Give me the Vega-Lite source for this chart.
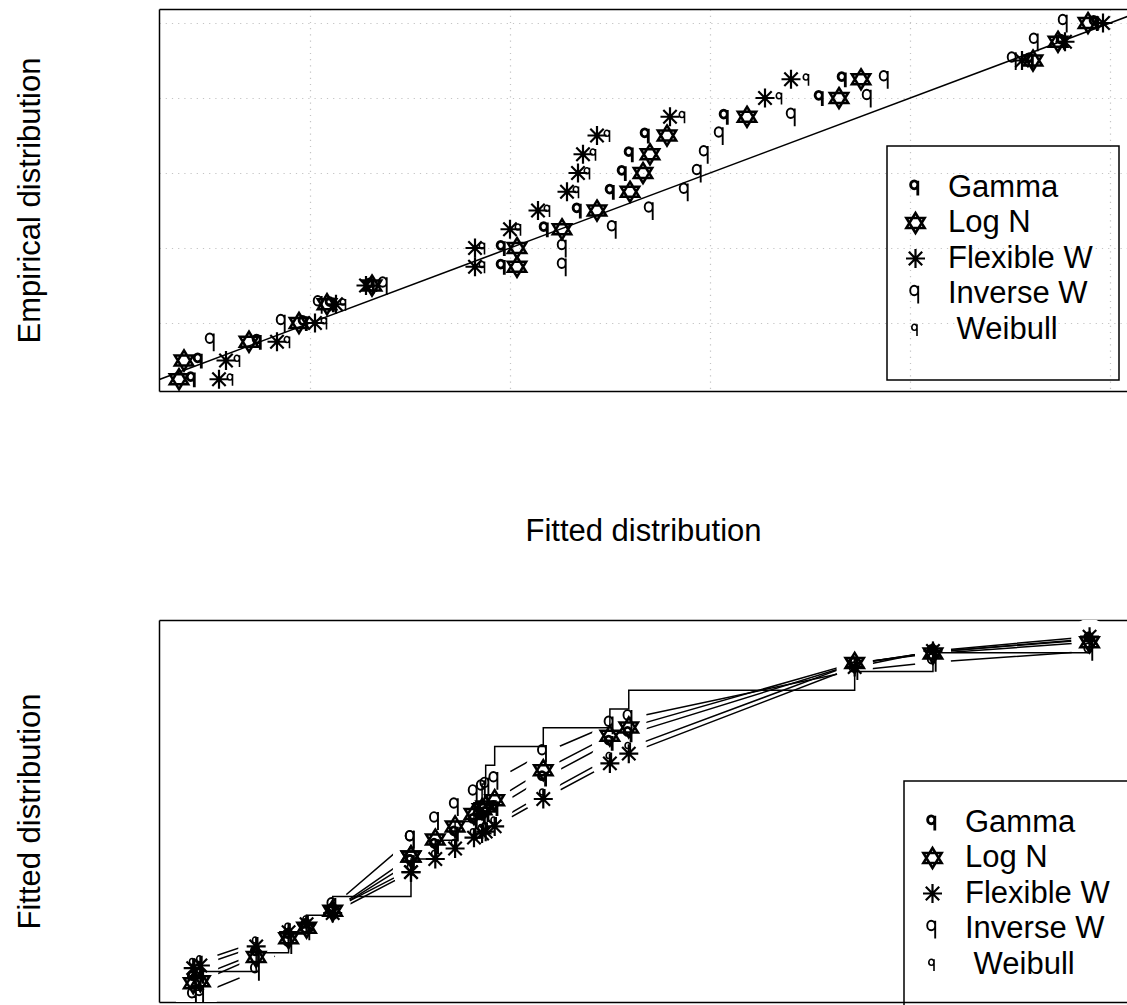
{
"$schema": "https://vega.github.io/schema/vega-lite/v6.json",
"padding": {"left": 14, "top": 9, "right": 0, "bottom": 1},
"spacing": 74,
"config": {
  "view": {"stroke": null},
  "font": "Liberation Sans",
  "axis": {"labels": false, "ticks": false, "domainColor": "black", "domainWidth": 1.5, "titleFont": "Liberation Sans", "titleFontSize": 31, "titleFontWeight": "normal", "titleColor": "black", "zindex": 1},
  "legend": {"orient": "none", "padding": 26, "strokeColor": "black", "strokeWidth": 1.5, "labelFont": "Liberation Sans", "labelFontSize": 31, "labelColor": "black", "labelLimit": 400, "rowPadding": 3.5, "symbolSize": 400, "symbolStrokeColor": "black", "symbolFillColor": "transparent", "symbolOpacity": 1, "symbolOffset": -13, "labelOffset": 17, "titleFontSize": 7, "titlePadding": 2, "titleOrient": "bottom"}
},
"datasets": {
  "diag": [{"a": 0, "b": 0}, {"a": 1.1, "b": 1.1}],
  "fit": [
    {"i": 1, "x": 4.8, "emp": 0.05, "Gamma": 0.082, "LogN": 0.069, "FlexW": 0.109, "InvW": 0.034, "Weibull": 0.121},
    {"i": 2, "x": 5.6, "emp": 0.10, "Gamma": 0.089, "LogN": 0.074, "FlexW": 0.116, "InvW": 0.040, "Weibull": 0.128},
    {"i": 3, "x": 11.8, "emp": 0.15, "Gamma": 0.148, "LogN": 0.139, "FlexW": 0.167, "InvW": 0.101, "Weibull": 0.178},
    {"i": 4, "x": 15.4, "emp": 0.20, "Gamma": 0.194, "LogN": 0.189, "FlexW": 0.205, "InvW": 0.172, "Weibull": 0.215},
    {"i": 5, "x": 17.4, "emp": 0.25, "Gamma": 0.221, "LogN": 0.217, "FlexW": 0.226, "InvW": 0.209, "Weibull": 0.234},
    {"i": 6, "x": 20.3, "emp": 0.30, "Gamma": 0.261, "LogN": 0.262, "FlexW": 0.256, "InvW": 0.274, "Weibull": 0.265},
    {"i": 7, "x": 29.0, "emp": 0.35, "Gamma": 0.392, "LogN": 0.407, "FlexW": 0.365, "InvW": 0.453, "Weibull": 0.373},
    {"i": 8, "x": 29.0, "emp": 0.40, "Gamma": 0.392, "LogN": 0.407, "FlexW": 0.365, "InvW": 0.453, "Weibull": 0.373},
    {"i": 9, "x": 31.7, "emp": 0.45, "Gamma": 0.435, "LogN": 0.452, "FlexW": 0.400, "InvW": 0.503, "Weibull": 0.409},
    {"i": 10, "x": 33.9, "emp": 0.50, "Gamma": 0.468, "LogN": 0.487, "FlexW": 0.428, "InvW": 0.540, "Weibull": 0.438},
    {"i": 11, "x": 36.0, "emp": 0.55, "Gamma": 0.501, "LogN": 0.520, "FlexW": 0.457, "InvW": 0.575, "Weibull": 0.467},
    {"i": 12, "x": 36.9, "emp": 0.60, "Gamma": 0.513, "LogN": 0.533, "FlexW": 0.468, "InvW": 0.588, "Weibull": 0.478},
    {"i": 13, "x": 37.3, "emp": 0.65, "Gamma": 0.520, "LogN": 0.540, "FlexW": 0.473, "InvW": 0.595, "Weibull": 0.484},
    {"i": 14, "x": 38.3, "emp": 0.70, "Gamma": 0.536, "LogN": 0.557, "FlexW": 0.487, "InvW": 0.610, "Weibull": 0.498},
    {"i": 15, "x": 43.7, "emp": 0.75, "Gamma": 0.615, "LogN": 0.637, "FlexW": 0.560, "InvW": 0.682, "Weibull": 0.573},
    {"i": 16, "x": 51.1, "emp": 0.80, "Gamma": 0.710, "LogN": 0.729, "FlexW": 0.655, "InvW": 0.758, "Weibull": 0.670},
    {"i": 17, "x": 53.2, "emp": 0.85, "Gamma": 0.733, "LogN": 0.751, "FlexW": 0.681, "InvW": 0.775, "Weibull": 0.697},
    {"i": 18, "x": 78.3, "emp": 0.90, "Gamma": 0.920, "LogN": 0.923, "FlexW": 0.912, "InvW": 0.903, "Weibull": 0.921},
    {"i": 19, "x": 87.0, "emp": 0.95, "Gamma": 0.952, "LogN": 0.948, "FlexW": 0.955, "InvW": 0.925, "Weibull": 0.952},
    {"i": 20, "x": 104.4, "emp": 1.00, "Gamma": 0.985, "LogN": 0.978, "FlexW": 0.993, "InvW": 0.954, "Weibull": 0.987}
  ]
},
"resolve": {"scale": {"x": "independent", "y": "independent", "shape": "independent", "strokeWidth": "independent"}},
"vconcat": [
  {
    "width": 968,
    "height": 382,
    "resolve": {"axis": {"x": "independent"}},
    "layer": [
      {
        "data": {"name": "diag"},
        "mark": {"type": "line", "color": "black", "strokeWidth": 1.6, "clip": true},
        "encoding": {
          "x": {"field": "a", "type": "quantitative", "scale": {"domain": [0.049, 1.017], "nice": false, "zero": false},
                "axis": {"orient": "bottom", "title": "Fitted distribution", "titlePadding": 125, "grid": true, "values": [0.2, 0.4, 0.6, 0.8, 1.0], "gridColor": "#c4c4c4", "gridDash": [1.2, 5], "gridWidth": 1.2}},
          "y": {"field": "b", "type": "quantitative", "scale": {"domain": [0.0187, 1.0374], "nice": false, "zero": false},
                "axis": {"title": "Empirical distribution", "titlePadding": 113, "grid": true, "values": [0.2, 0.4, 0.6, 0.8, 1.0], "gridColor": "#c4c4c4", "gridDash": [1.2, 5], "gridWidth": 1.2}}
        }
      },
      {
        "data": {"name": "fit"},
        "transform": [{"fold": ["Gamma", "LogN", "FlexW", "InvW", "Weibull"], "as": ["series", "F"]}],
        "mark": {"type": "point", "filled": false, "size": 400, "color": "black", "opacity": 1, "clip": true},
        "encoding": {
          "x": {"field": "F", "type": "quantitative", "scale": {"domain": [0.049, 1.017], "nice": false, "zero": false},
                "axis": {"orient": "top", "title": null, "grid": false}},
          "y": {"field": "emp", "type": "quantitative", "scale": {"domain": [0.0187, 1.0374], "nice": false, "zero": false},
                "axis": {"title": "Empirical distribution", "titlePadding": 113, "grid": true, "values": [0.2, 0.4, 0.6, 0.8, 1.0], "gridColor": "#c4c4c4", "gridDash": [1.2, 5], "gridWidth": 1.2}},
          "shape": {"field": "series", "type": "nominal",
                    "scale": {"domain": ["Gamma", "LogN", "FlexW", "InvW", "Weibull"],
                              "range": ["M0.23,-0.27A0.36 0.4 0 1 1 -0.49 -0.27A0.36 0.4 0 1 1 0.23 -0.27M0.23,-0.67L0.23,0.8",
                                        "M0,-1L0.92,0.5L-0.92,0.5Z M0,1L0.92,-0.5L-0.92,-0.5Z",
                                        "M0,-0.95L0,0.95M-0.95,0L0.95,0M-0.67,-0.67L0.67,0.67M-0.67,0.67L0.67,-0.67",
                                        "M0.27,-0.35A0.4 0.48 0 1 1 -0.53 -0.35A0.4 0.48 0 1 1 0.27 -0.35M0.27,-0.83L0.27,0.95",
                                        "M0.15,-0.22A0.26 0.3 0 1 1 -0.37 -0.22A0.26 0.3 0 1 1 0.15 -0.22M0.15,-0.52L0.15,0.64"]},
                    "legend": {"title": "\u00a0", "legendX": 728, "legendY": 137,
                               "labelExpr": "datum.label == 'LogN' ? 'Log N' : datum.label == 'FlexW' ? 'Flexible W' : datum.label == 'InvW' ? 'Inverse W' : datum.label == 'Weibull' ? '\u200b\u00a0Weibull' : datum.label"}},
          "strokeWidth": {"field": "series", "type": "nominal",
                          "scale": {"domain": ["Gamma", "LogN", "FlexW", "InvW", "Weibull"], "range": [2.8, 1.6, 1.6, 1.3, 2.3]}}
        }
      }
    ]
  },
  {
    "width": 968,
    "height": 382,
    "resolve": {"axis": {"x": "independent"}},
    "layer": [
      {
        "data": {"name": "fit"},
        "transform": [{"fold": ["Gamma", "LogN", "FlexW", "InvW", "Weibull"], "as": ["series", "F"]}],
        "mark": {"type": "line", "color": "black", "strokeWidth": 1.5, "clip": true},
        "encoding": {
          "x": {"field": "x", "type": "quantitative", "scale": {"domain": [1.0, 108.56], "nice": false, "zero": false},
                "axis": {"orient": "bottom", "title": null, "grid": false}},
          "y": {"field": "F", "type": "quantitative", "scale": {"domain": [0.0187, 1.0374], "nice": false, "zero": false},
                "axis": {"title": "Fitted distribution", "titlePadding": 113, "grid": false}},
          "detail": {"field": "series"},
          "order": {"field": "i", "type": "quantitative"}
        }
      },
      {
        "data": {"name": "fit"},
        "transform": [{"fold": ["Gamma", "LogN", "FlexW", "InvW", "Weibull"], "as": ["series", "F"]}],
        "mark": {"type": "point", "shape": "circle", "filled": true, "color": "white", "size": 1300, "opacity": 1, "strokeWidth": 0, "clip": true},
        "encoding": {
          "x": {"field": "x", "type": "quantitative", "scale": {"domain": [1.0, 108.56], "nice": false, "zero": false}, "axis": null},
          "y": {"field": "F", "type": "quantitative", "scale": {"domain": [0.0187, 1.0374], "nice": false, "zero": false},
                "axis": {"title": "Fitted distribution", "titlePadding": 113, "grid": false}}
        }
      },
      {
        "data": {"name": "fit"},
        "mark": {"type": "line", "interpolate": "step-after", "color": "black", "strokeWidth": 1.5, "clip": true},
        "encoding": {
          "x": {"field": "x", "type": "quantitative", "scale": {"domain": [1.0, 108.56], "nice": false, "zero": false}, "axis": null},
          "y": {"field": "emp", "type": "quantitative", "scale": {"domain": [0.0187, 1.0374], "nice": false, "zero": false},
                "axis": {"title": "Fitted distribution", "titlePadding": 113, "grid": false}},
          "order": {"field": "i", "type": "quantitative"}
        }
      },
      {
        "data": {"name": "fit"},
        "transform": [{"fold": ["Gamma", "LogN", "FlexW", "InvW", "Weibull"], "as": ["series", "F"]}],
        "mark": {"type": "point", "filled": false, "size": 400, "color": "black", "opacity": 1, "clip": true},
        "encoding": {
          "x": {"field": "x", "type": "quantitative", "scale": {"domain": [1.0, 108.56], "nice": false, "zero": false},
                "axis": {"orient": "top", "title": null, "grid": false}},
          "y": {"field": "F", "type": "quantitative", "scale": {"domain": [0.0187, 1.0374], "nice": false, "zero": false},
                "axis": {"title": "Fitted distribution", "titlePadding": 113, "grid": false}},
          "shape": {"field": "series", "type": "nominal",
                    "scale": {"domain": ["Gamma", "LogN", "FlexW", "InvW", "Weibull"],
                              "range": ["M0.23,-0.27A0.36 0.4 0 1 1 -0.49 -0.27A0.36 0.4 0 1 1 0.23 -0.27M0.23,-0.67L0.23,0.8",
                                        "M0,-1L0.92,0.5L-0.92,0.5Z M0,1L0.92,-0.5L-0.92,-0.5Z",
                                        "M0,-0.95L0,0.95M-0.95,0L0.95,0M-0.67,-0.67L0.67,0.67M-0.67,0.67L0.67,-0.67",
                                        "M0.27,-0.35A0.4 0.48 0 1 1 -0.53 -0.35A0.4 0.48 0 1 1 0.27 -0.35M0.27,-0.83L0.27,0.95",
                                        "M0.15,-0.22A0.26 0.3 0 1 1 -0.37 -0.22A0.26 0.3 0 1 1 0.15 -0.22M0.15,-0.52L0.15,0.64"]},
                    "legend": {"title": null, "legendX": 745, "legendY": 161,
                               "labelExpr": "datum.label == 'LogN' ? 'Log N' : datum.label == 'FlexW' ? 'Flexible W' : datum.label == 'InvW' ? 'Inverse W' : datum.label == 'Weibull' ? '\u200b\u00a0Weibull' : datum.label"}},
          "strokeWidth": {"field": "series", "type": "nominal",
                          "scale": {"domain": ["Gamma", "LogN", "FlexW", "InvW", "Weibull"], "range": [2.8, 1.6, 1.6, 1.3, 2.3]}}
        }
      }
    ]
  }
]
}
